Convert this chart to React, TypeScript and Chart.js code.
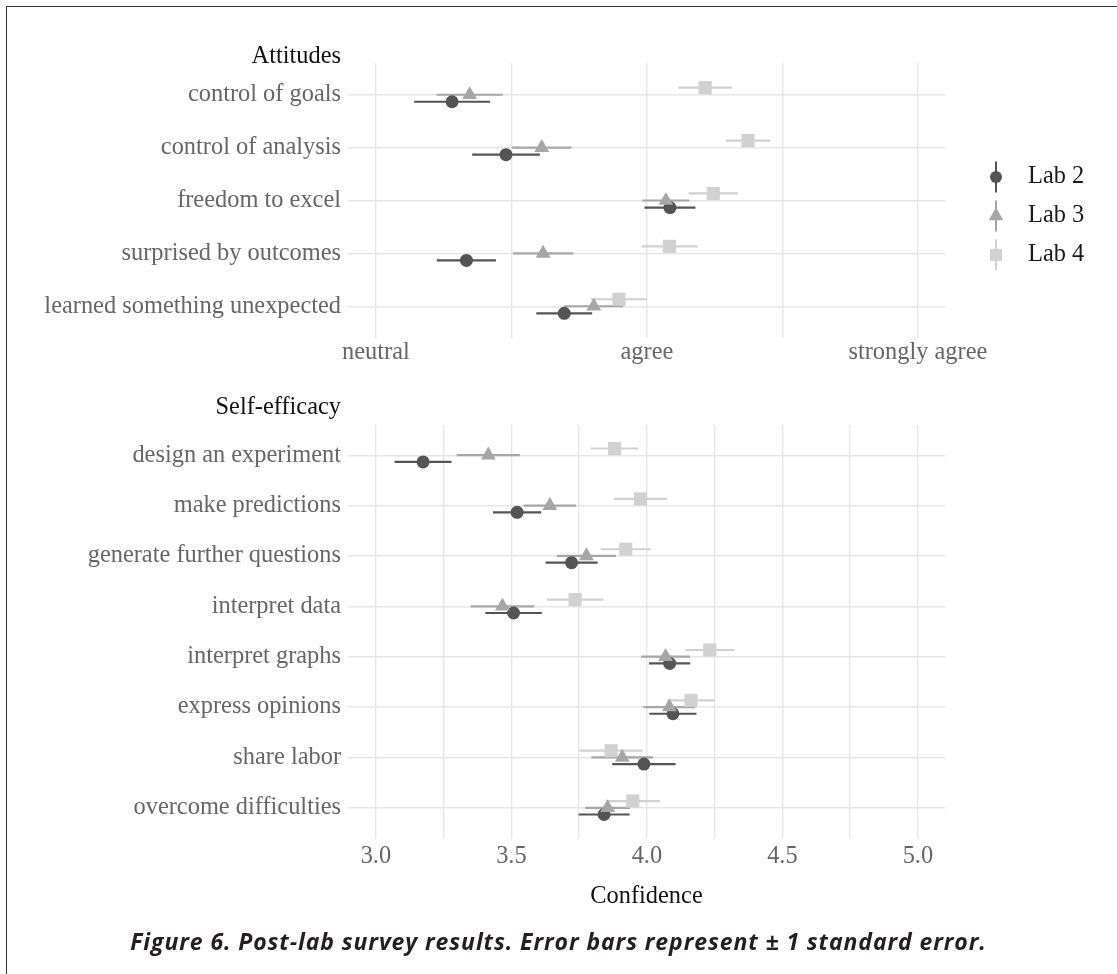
import React, { useEffect, useRef } from 'react';
import { Chart, registerables } from 'chart.js';

Chart.register(...registerables);

// ---------- data ----------
const labNames = ['Lab 2', 'Lab 3', 'Lab 4'];

const attitudeCategories = [
  'control of goals',
  'control of analysis',
  'freedom to excel',
  'surprised by outcomes',
  'learned something unexpected',
];
const attitudeLab2Mean = [3.281, 3.48, 4.085, 3.334, 3.695];
const attitudeLab2Se = [0.14, 0.125, 0.094, 0.109, 0.103];
const attitudeLab3Mean = [3.346, 3.612, 4.07, 3.617, 3.804];
const attitudeLab3Se = [0.122, 0.11, 0.087, 0.111, 0.109];
const attitudeLab4Mean = [4.215, 4.373, 4.245, 4.083, 3.897];
const attitudeLab4Se = [0.099, 0.082, 0.091, 0.103, 0.103];
const attitudeTickValues = [3, 3.5, 4, 4.5, 5];
const attitudeTickLabels = ['neutral', '', 'agree', '', 'strongly agree'];

const efficacyCategories = [
  'design an experiment',
  'make predictions',
  'generate further questions',
  'interpret data',
  'interpret graphs',
  'express opinions',
  'share labor',
  'overcome difficulties',
];
const efficacyLab2Mean = [3.174, 3.521, 3.722, 3.508, 4.084, 4.096, 3.989, 3.842];
const efficacyLab2Se = [0.105, 0.089, 0.096, 0.104, 0.076, 0.087, 0.117, 0.094];
const efficacyLab3Mean = [3.415, 3.642, 3.777, 3.467, 4.069, 4.083, 3.909, 3.855];
const efficacyLab3Se = [0.117, 0.097, 0.109, 0.117, 0.09, 0.095, 0.114, 0.083];
const efficacyLab4Mean = [3.881, 3.976, 3.922, 3.735, 4.232, 4.163, 3.868, 3.948];
const efficacyLab4Se = [0.087, 0.098, 0.093, 0.104, 0.09, 0.087, 0.116, 0.1];
const confidenceTickValues = [3, 3.25, 3.5, 3.75, 4, 4.25, 4.5, 4.75, 5];
const confidenceTickLabels = ['3.0', '', '3.5', '', '4.0', '', '4.5', '', '5.0'];

// ---------- styling ----------
const SERIF = "'Liberation Serif', 'Times New Roman', 'DejaVu Serif', serif";
const FONT_SIZE = 24.4;
const labColors = ['#545454', '#a6a6a6', '#d1d1d1'];
const labShapes = ['circle', 'triangle', 'rect'];
const labRadius = [6.5, 8.6, 9.3];
const labDodge = [0.133, 0, -0.133];
const labOrder = [2, 1, 3];
const GRID = '#e6e6e6';
const TICK_COLOR = '#666666';
const X_MIN = 2.897;
const X_MAX = 5.1;

function drawMarker(ctx: CanvasRenderingContext2D, shape: string, x: number, y: number, r: number, color: string) {
  ctx.save();
  ctx.fillStyle = color;
  ctx.beginPath();
  if (shape === 'circle') {
    ctx.arc(x, y, r, 0, Math.PI * 2);
  } else if (shape === 'triangle') {
    ctx.moveTo(x, y - r);
    ctx.lineTo(x + r * 0.866, y + r * 0.5);
    ctx.lineTo(x - r * 0.866, y + r * 0.5);
    ctx.closePath();
  } else {
    const h = r * Math.SQRT1_2;
    ctx.rect(x - h, y - h, 2 * h, 2 * h);
  }
  ctx.fill();
  ctx.restore();
}

const errorBarPlugin = {
  id: 'errorBars',
  beforeDatasetsDraw(chart: any) {
    const ctx = chart.ctx;
    const xs = chart.scales.x;
    const ys = chart.scales.y;
    ctx.save();
    ctx.beginPath();
    ctx.rect(chart.chartArea.left, chart.chartArea.top, chart.chartArea.right - chart.chartArea.left, chart.chartArea.bottom - chart.chartArea.top);
    ctx.clip();
    ctx.lineWidth = 2.2;
    ctx.lineCap = 'butt';
    chart.data.datasets.forEach((ds: any) => {
      ctx.strokeStyle = ds.barColor;
      ds.data.forEach((pt: any, j: number) => {
        const se = ds.se[j];
        const y = ys.getPixelForValue(pt.y);
        ctx.beginPath();
        ctx.moveTo(xs.getPixelForValue(pt.x - se), y);
        ctx.lineTo(xs.getPixelForValue(pt.x + se), y);
        ctx.stroke();
      });
    });
    ctx.restore();
  },
};

const panelTitlePlugin = {
  id: 'panelTitle',
  afterDraw(chart: any, _args: any, opts: any) {
    if (!opts || !opts.text) return;
    const ctx = chart.ctx;
    ctx.save();
    ctx.font = `${FONT_SIZE}px ${SERIF}`;
    ctx.fillStyle = '#111111';
    ctx.textAlign = 'right';
    ctx.textBaseline = 'alphabetic';
    ctx.fillText(opts.text, chart.chartArea.left - 7, chart.chartArea.top + opts.offset);
    ctx.restore();
  },
};

const labLegendPlugin = {
  id: 'labLegend',
  afterDraw(chart: any, _args: any, opts: any) {
    if (!opts || !opts.show) return;
    const ctx = chart.ctx;
    ctx.save();
    labNames.forEach((name, i) => {
      const cy = opts.y + i * opts.spacing;
      const cx = opts.x;
      ctx.strokeStyle = labColors[i];
      ctx.lineWidth = 2;
      ctx.beginPath();
      ctx.moveTo(cx, cy - 15.5);
      ctx.lineTo(cx, cy + 15.5);
      ctx.stroke();
      drawMarker(ctx, labShapes[i], cx, cy, [6, 8.5, 8.5][i], labColors[i]);
      ctx.font = `${FONT_SIZE}px ${SERIF}`;
      ctx.fillStyle = '#1a1a1a';
      ctx.textAlign = 'left';
      ctx.textBaseline = 'middle';
      ctx.fillText(name, cx + 32, cy);
    });
    ctx.restore();
  },
};

function buildConfig(p: {
  categories: string[];
  means: number[][];
  ses: number[][];
  tickValues: number[];
  tickLabels: string[];
  title: string;
  titleOffset: number;
  xTitle?: string;
  padTop: number;
  padBottom: number;
  xAxisHeight: number;
  tickPad: number;
  legend: boolean;
}) {
  const datasets = labNames.map((name, i) => ({
    type: 'scatter' as const,
    label: name,
    data: p.categories.map((_, j) => ({ x: p.means[i][j], y: j + 1 + labDodge[i] })),
    se: p.ses[i],
    barColor: labColors[i],
    backgroundColor: labColors[i],
    borderWidth: 0,
    pointStyle: labShapes[i],
    pointRadius: labRadius[i],
    pointHoverRadius: labRadius[i],
    order: labOrder[i],
  }));
  return {
    type: 'scatter' as const,
    data: { datasets },
    plugins: [errorBarPlugin, panelTitlePlugin, labLegendPlugin],
    options: {
      animation: false,
      responsive: false,
      devicePixelRatio: 1,
      events: [],
      layout: { padding: { top: p.padTop, right: 172, bottom: p.padBottom, left: 0 } },
      plugins: {
        legend: { display: false },
        tooltip: { enabled: false },
        panelTitle: { text: p.title, offset: p.titleOffset },
        labLegend: { show: p.legend, x: 996, y: 177, spacing: 39 },
      },
      scales: {
        x: {
          type: 'linear',
          min: X_MIN,
          max: X_MAX,
          afterBuildTicks: (s: any) => {
            s.ticks = p.tickValues.map((v) => ({ value: v }));
          },
          afterFit: (s: any) => {
            s.height = p.xAxisHeight;
          },
          ticks: {
            callback: (_v: any, idx: number) => p.tickLabels[idx],
            color: TICK_COLOR,
            font: { family: SERIF, size: FONT_SIZE },
            padding: p.tickPad,
            maxRotation: 0,
            autoSkip: false,
          },
          grid: { color: GRID, lineWidth: 1.4, drawTicks: false },
          border: { display: false },
          title: p.xTitle
            ? {
                display: true,
                text: p.xTitle,
                color: '#111111',
                font: { family: SERIF, size: FONT_SIZE },
                padding: { top: 0, bottom: 0 },
              }
            : { display: false },
        },
        y: {
          type: 'linear',
          reverse: true,
          min: 0.4,
          max: p.categories.length + 0.6,
          afterBuildTicks: (s: any) => {
            s.ticks = p.categories.map((_, j) => ({ value: j + 1 }));
          },
          afterFit: (s: any) => {
            s.width = 348;
          },
          ticks: {
            callback: (_v: any, idx: number) => p.categories[idx],
            color: TICK_COLOR,
            font: { family: SERIF, size: FONT_SIZE },
            padding: 7,
            autoSkip: false,
          },
          grid: { color: GRID, lineWidth: 1.4, drawTicks: false },
          border: { display: false },
        },
      },
    },
  };
}

export default function App() {
  const topRef = useRef<HTMLCanvasElement>(null);
  const botRef = useRef<HTMLCanvasElement>(null);

  useEffect(() => {
    const top = new Chart(
      topRef.current as HTMLCanvasElement,
      buildConfig({
        categories: attitudeCategories,
        means: [attitudeLab2Mean, attitudeLab3Mean, attitudeLab4Mean],
        ses: [attitudeLab2Se, attitudeLab3Se, attitudeLab4Se],
        tickValues: attitudeTickValues,
        tickLabels: attitudeTickLabels,
        title: 'Attitudes',
        titleOffset: 0,
        padTop: 63,
        padBottom: 0,
        xAxisHeight: 52,
        tickPad: 0,
        legend: true,
      }) as any
    );
    const bot = new Chart(
      botRef.current as HTMLCanvasElement,
      buildConfig({
        categories: efficacyCategories,
        means: [efficacyLab2Mean, efficacyLab3Mean, efficacyLab4Mean],
        ses: [efficacyLab2Se, efficacyLab3Se, efficacyLab4Se],
        tickValues: confidenceTickValues,
        tickLabels: confidenceTickLabels,
        title: 'Self-efficacy',
        titleOffset: -11,
        xTitle: 'Confidence',
        padTop: 35,
        padBottom: 19,
        xAxisHeight: 73,
        tickPad: 4,
        legend: false,
      }) as any
    );
    return () => {
      top.destroy();
      bot.destroy();
    };
  }, []);

  return (
    <div
      style={{
        position: 'absolute',
        left: 0,
        top: 0,
        width: 1117,
        height: 974,
        overflow: 'hidden',
        background: '#ffffff',
      }}
    >
      <div
        style={{
          position: 'absolute',
          left: 6,
          top: 6,
          width: 1300,
          height: 1200,
          borderTop: '1px solid #333333',
          borderLeft: '1px solid #333333',
        }}
      />
      <canvas
        ref={topRef}
        width={1117}
        height={390}
        style={{ position: 'absolute', left: 0, top: 0, width: 1117, height: 390 }}
      />
      <canvas
        ref={botRef}
        width={1117}
        height={540}
        style={{ position: 'absolute', left: 0, top: 390, width: 1117, height: 540 }}
      />
      <div
        style={{
          position: 'absolute',
          left: 0,
          top: 928,
          width: 1117,
          textAlign: 'center',
          fontFamily: "'Open Sans', 'DejaVu Sans', sans-serif",
          fontWeight: 700,
          fontStyle: 'italic',
          fontSize: 23,
          letterSpacing: '0.9px',
          lineHeight: '26px',
          color: '#231f20',
          whiteSpace: 'nowrap',
        }}
      >
        Figure 6. Post-lab survey results. Error bars represent ± 1 standard error.
      </div>
    </div>
  );
}
